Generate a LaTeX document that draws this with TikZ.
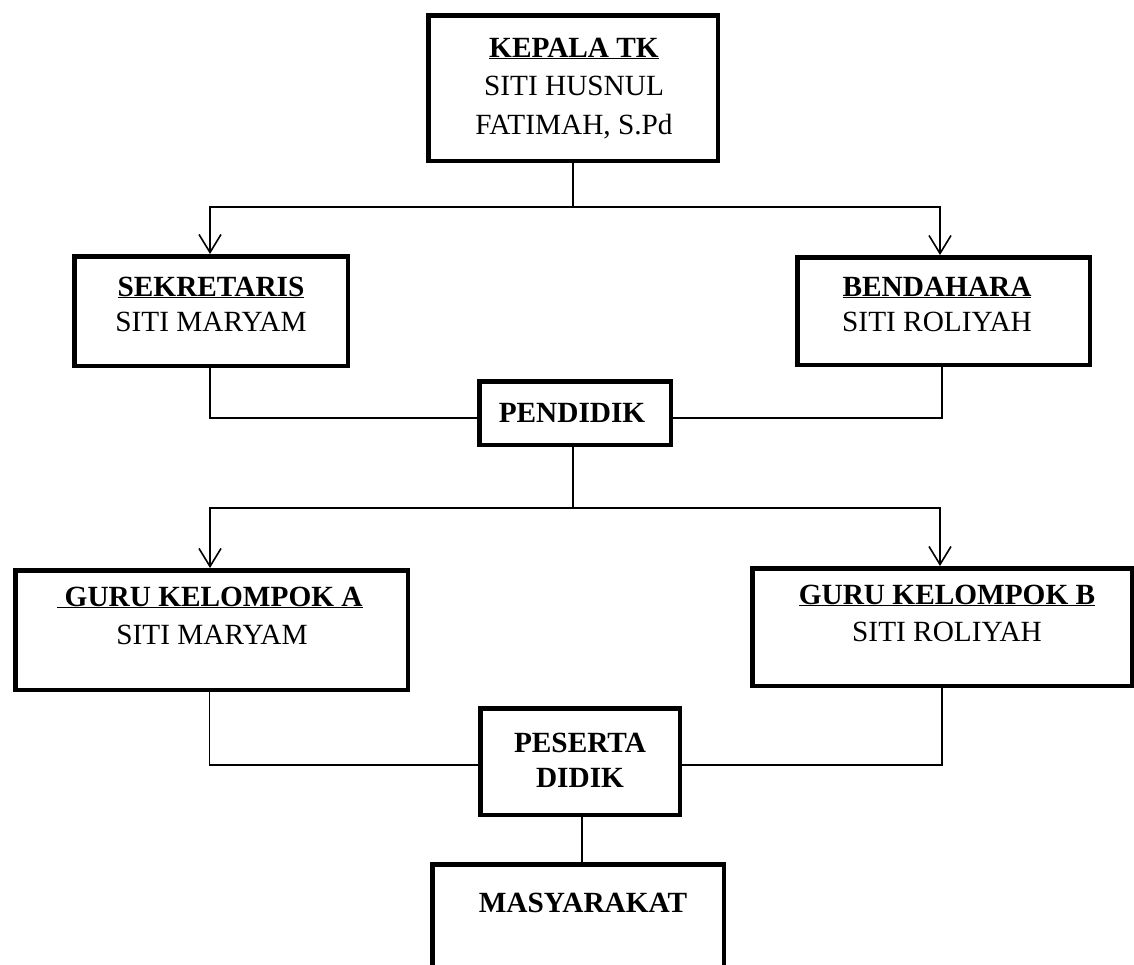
\documentclass[tikz,border=0pt]{standalone}
\usepackage{fontspec}
\setmainfont{Liberation Serif}
\usetikzlibrary{arrows.meta}
\begin{document}
\begin{tikzpicture}[x=1pt,y=-1pt,
  box/.style={draw, line width=4.5pt, rectangle, inner sep=0pt},
  txt/.style={anchor=base, inner sep=0pt, font=\fontsize{29.3}{37}\selectfont},
  conn/.style={line width=1.6pt},
  arr/.style={line width=1.6pt, -{Straight Barb[length=18pt,width=22pt,line width=1.6pt]}}]
\useasboundingbox (0,0) rectangle (1134,964);
\clip (0,0) rectangle (1134,964);
% boxes
\node[box, minimum width=289.5pt, minimum height=145.5pt] (kep) at (573,88) {};
\node[box, minimum width=273.5pt, minimum height=109.5pt] (sek) at (211,311) {};
\node[box, minimum width=292.5pt, minimum height=107.5pt] (bend) at (943.5,311) {};
\node[box, minimum width=191.5pt, minimum height=63.5pt] (pend) at (575,413) {};
\node[box, minimum width=392.5pt, minimum height=119.5pt] (guruA) at (211.5,630) {};
\node[box, minimum width=379.5pt, minimum height=117.5pt] (guruB) at (942,627) {};
\node[box, minimum width=199.5pt, minimum height=106.5pt] (pes) at (580,761.5) {};
\node[box, minimum width=291.5pt, minimum height=133.5pt] (masy) at (578,931) {};
% texts
\node[txt] (kepT1) at (574,57) {\textbf{\underline{KEPALA TK}}};
\node[txt] (kepT2) at (574,95) {SITI HUSNUL};
\node[txt] (kepT3) at (574,134) {FATIMAH, S.Pd};
\node[txt] (sekT1) at (211,296) {\textbf{\underline{SEKRETARIS}}};
\node[txt] (sekT2) at (211,331) {SITI MARYAM};
\node[txt] (bendT1) at (937,296) {\textbf{\underline{BENDAHARA}}};
\node[txt] (bendT2) at (937,331) {SITI ROLIYAH};
\node[txt] (pendT) at (572,422) {\textbf{PENDIDIK}};
\node[txt] (guruAT1) at (210,606) {\textbf{\underline{\ GURU KELOMPOK A}}};
\node[txt] (guruAT2) at (212,644) {SITI MARYAM};
\node[txt] (guruBT1) at (947,604) {\textbf{\underline{GURU KELOMPOK B}}};
\node[txt] (guruBT2) at (947,641) {SITI ROLIYAH};
\node[txt] (pesT1) at (580,752) {\textbf{PESERTA}};
\node[txt] (pesT2) at (580,787) {\textbf{DIDIK}};
\node[txt] (masyT) at (583,912) {\textbf{MASYARAKAT}};
% connectors
\coordinate (k1) at (573,207);
\draw[conn] (kep.south) -- (k1);
\draw[arr] (k1) -| ([xshift=-1pt]sek.north);
\draw[arr] (k1) -| ([xshift=-3.5pt]bend.north);
\draw[conn] ([xshift=-1pt]sek.south) |- ([yshift=-5pt]pend.west);
\draw[conn] ([xshift=-1.5pt]bend.south) |- ([yshift=-5pt]pend.east);
\coordinate (p1) at (573,508);
\draw[conn] ([xshift=-2pt]pend.south) -- (p1);
\draw[arr] (p1) -| ([xshift=-1.5pt]guruA.north);
\draw[arr] (p1) -| ([xshift=-2pt]guruB.north);
\draw[conn] ([xshift=-2pt]guruA.south) |- ([yshift=-3.5pt]pes.west);
\draw[conn] (guruB.south) |- ([yshift=-3.5pt]pes.east);
\draw[conn] ([xshift=2pt]pes.south) -- ([xshift=4pt]masy.north);
\end{tikzpicture}
\end{document}
